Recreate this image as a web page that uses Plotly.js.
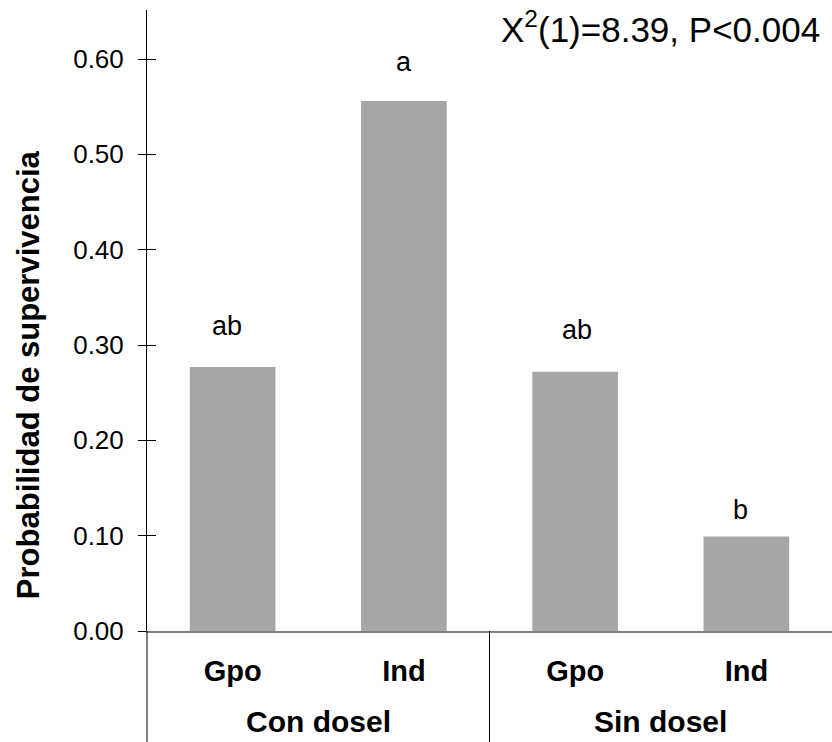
<!DOCTYPE html>
<html>
<head>
<meta charset="utf-8">
<script src="https://cdn.plot.ly/plotly-3.0.1.min.js"></script>
<style>html,body{margin:0;padding:0;background:#fff;overflow:hidden}</style>
</head>
<body>
<div id="chart" style="width:832px;height:742px"></div>
<script>
// ---- data ----
var groups = ["Con dosel", "Sin dosel"];
var categories = ["Gpo", "Ind", "Gpo", "Ind"];
var survival = [0.277, 0.556, 0.272, 0.099];
var letters = ["ab", "a", "ab", "b"];
var yTickVals = [0, 0.1, 0.2, 0.3, 0.4, 0.5, 0.6];
var yTickText = ["0.00", "0.10", "0.20", "0.30", "0.40", "0.50", "0.60"];
var statText = "X<sup>2</sup>(1)=8.39, P&lt;0.004";
var yTitle = "Probabilidad de supervivencia";

// ---- styling ----
var FONT = "Liberation Sans, Arial, sans-serif";
var letterYShift = [24, 22, 25, 10];
var letterXShift = [-6, 0, 2, -6];
var xIdx = categories.map(function (c, i) { return i; });

var annotations = [];
letters.forEach(function (t, i) {
  annotations.push({
    x: xIdx[i], y: survival[i], xref: "x", yref: "y",
    text: t, showarrow: false, yanchor: "bottom", xanchor: "center",
    yshift: letterYShift[i], xshift: letterXShift[i],
    font: {family: FONT, size: 27, color: "#000"}
  });
});
groups.forEach(function (g, gi) {
  annotations.push({
    x: gi * 2 + 0.5, y: -0.1465, xref: "x", yref: "paper",
    text: g, showarrow: false, yanchor: "middle", xanchor: "center",
    font: {family: FONT, size: 30, color: "#000", weight: "bold"}
  });
});
annotations.push({
  x: 0.9854, y: 0.9726, xref: "paper", yref: "paper",
  text: statText, showarrow: false, xanchor: "right", yanchor: "middle",
  font: {family: FONT, size: 35, color: "#000"}
});
annotations.push({
  x: -0.1737, y: 0.412, xref: "paper", yref: "paper",
  text: yTitle, showarrow: false, textangle: -90,
  xanchor: "center", yanchor: "middle",
  font: {family: FONT, size: 31, color: "#000", weight: "bold"}
});

var shapes = [
  {type: "line", xref: "paper", yref: "paper", x0: 0, x1: 0, y0: 0, y1: -0.185,
   line: {color: "#000", width: 1}},
  {type: "line", xref: "x", yref: "paper", x0: 1.5, x1: 1.5, y0: 0, y1: -0.185,
   line: {color: "#000", width: 1}}
];

var yRange = [0, 0.6514];

var traces = [
  {
    type: "bar", x: xIdx, y: survival,
    marker: {color: "#a6a6a6", line: {width: 0}},
    hoverinfo: "skip"
  },
  {
    type: "scatter", x: [], y: [], yaxis: "y2", hoverinfo: "skip", showlegend: false
  }
];

var layout = {
  width: 832, height: 742,
  margin: {l: 147, r: 0, t: 10, b: 111},
  paper_bgcolor: "#fff", plot_bgcolor: "#fff",
  showlegend: false,
  bargap: 0.5,
  xaxis: {
    range: [-0.5, 3.5],
    tickvals: xIdx, ticktext: categories,
    showline: true, linecolor: "#808080", linewidth: 1.5,
    ticks: "", showgrid: false, zeroline: false,
    tickfont: {family: FONT, size: 29, color: "#000", weight: "bold"},
    ticklabelstandoff: 14
  },
  yaxis: {
    range: yRange,
    tickvals: yTickVals, ticktext: yTickText,
    showline: true, linecolor: "#000", linewidth: 1,
    ticks: "outside", ticklen: 8, tickcolor: "#000", tickwidth: 1,
    showgrid: false, zeroline: false,
    tickfont: {family: FONT, size: 26, color: "#000"},
    ticklabelstandoff: 9
  },
  yaxis2: {
    overlaying: "y", side: "left", range: yRange,
    tickvals: yTickVals, showticklabels: false,
    ticks: "inside", ticklen: 9, tickcolor: "#000", tickwidth: 1,
    showline: false, showgrid: false, zeroline: false
  },
  annotations: annotations,
  shapes: shapes
};

Plotly.newPlot("chart", traces, layout, {staticPlot: true, displayModeBar: false});
</script>
</body>
</html>
